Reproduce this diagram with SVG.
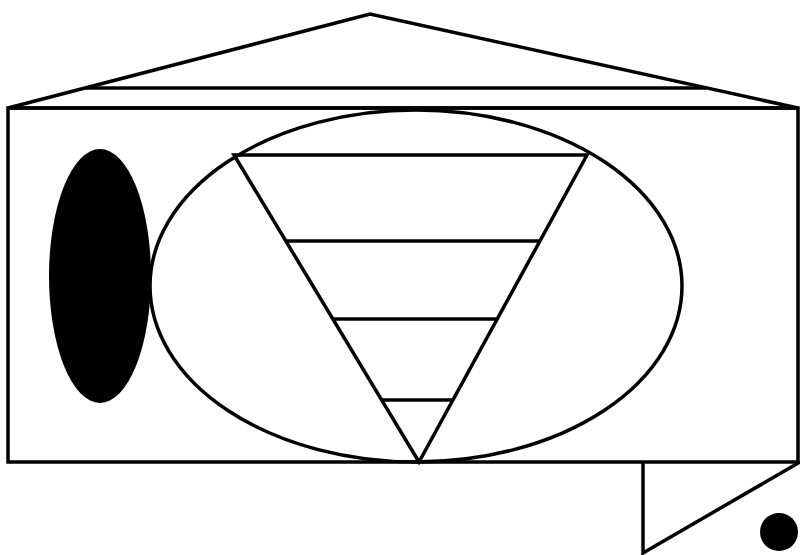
<svg xmlns="http://www.w3.org/2000/svg" width="800" height="555" viewBox="0 0 800 555">
<style>
.s{fill:none;stroke:#000;stroke-width:3.5;stroke-linejoin:miter}
.f{fill:#000;stroke:none}
</style>
<rect width="800" height="555" fill="#fff"/>
<g id="roof">
<polygon class="s" points="8,108 370,14 798,108"/>
<line class="s" x1="86" y1="88" x2="706" y2="88"/>
</g>
<g id="body">
<rect class="s" x="8" y="108" width="790" height="354"/>
</g>
<g id="big-ellipse">
<ellipse class="s" cx="416" cy="286" rx="266" ry="176"/>
</g>
<g id="triangle">
<polygon class="s" points="234,155 587,155 419,462"/>
<line class="s" x1="286" y1="241" x2="540" y2="241"/>
<line class="s" x1="333" y1="319" x2="497" y2="319"/>
<line class="s" x1="382" y1="400" x2="453" y2="400"/>
</g>
<g id="black-ellipse">
<ellipse class="f" cx="100" cy="276" rx="51" ry="127"/>
</g>
<g id="corner">
<polyline class="s" points="643,462 643,553 800,462"/>
<circle class="f" cx="779" cy="532" r="19"/>
</g>
</svg>
